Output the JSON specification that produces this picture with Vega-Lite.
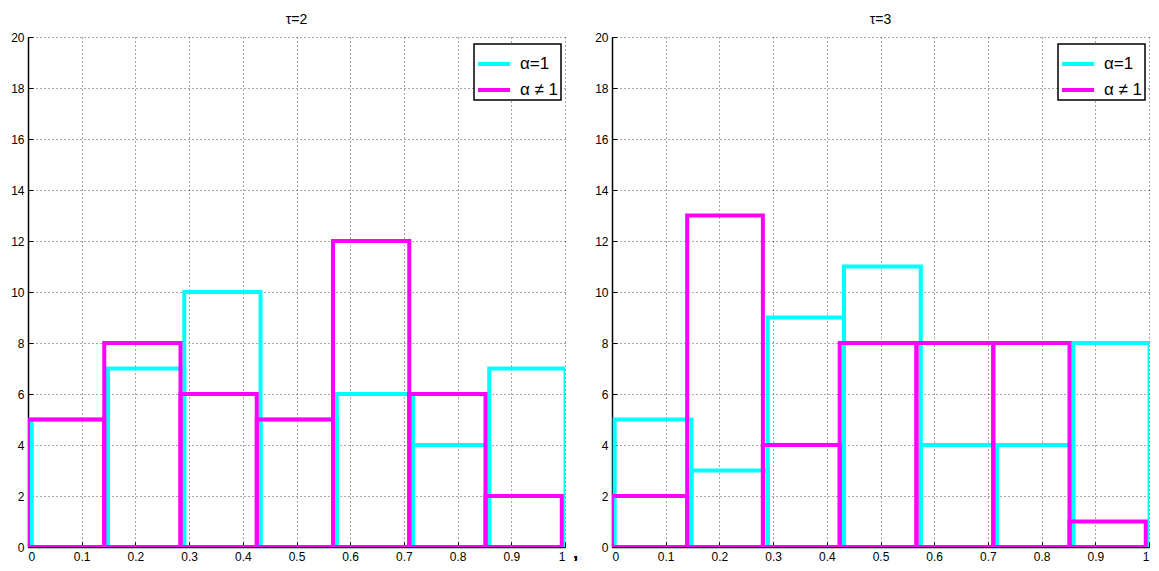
{
  "$schema": "https://vega.github.io/schema/vega-lite/v6.json",
  "background": "white",
  "padding": {"left": 10, "top": 13, "right": 5, "bottom": 5},
  "config": {
    "view": {"stroke": null},
    "font": "Liberation Sans",
    "axis": {
      "domainColor": "#000", "domainWidth": 1.5,
      "tickColor": "#000", "tickSize": -5, "tickWidth": 1,
      "labelColor": "#000", "labelFontSize": 12, "labelFont": "Liberation Sans", "labelPadding": 9,
      "gridColor": "#000", "gridDash": [1, 3], "gridOpacity": 0.7, "gridWidth": 1,
      "format": "~g",
      "title": null
    },
    "title": {"fontSize": 14, "fontWeight": "normal", "color": "#000", "offset": 4, "font": "Liberation Sans"},
    "legend": {
      "orient": "none", "legendX": 446, "legendY": 7,
      "strokeColor": "#000", "strokeWidth": 1.5, "fillColor": "#fff", "padding": 2,
      "symbolType": "stroke", "symbolStrokeWidth": 4, "symbolSize": 1024,
      "labelFontSize": 17, "labelColor": "#000", "labelFont": "Liberation Sans",
      "rowPadding": -4, "labelOffset": 8
    }
  },
  "datasets": {
    "hist": [
      {"panel": "τ=2", "series": "α=1", "start": 0.007, "end": 0.149, "count": 5},
      {"panel": "τ=2", "series": "α=1", "start": 0.149, "end": 0.291, "count": 7},
      {"panel": "τ=2", "series": "α=1", "start": 0.291, "end": 0.433, "count": 10},
      {"panel": "τ=2", "series": "α=1", "start": 0.433, "end": 0.575, "count": 5},
      {"panel": "τ=2", "series": "α=1", "start": 0.575, "end": 0.717, "count": 6},
      {"panel": "τ=2", "series": "α=1", "start": 0.717, "end": 0.859, "count": 4},
      {"panel": "τ=2", "series": "α=1", "start": 0.859, "end": 1.001, "count": 7},
      {"panel": "τ=2", "series": "α ≠ 1", "start": 0.0, "end": 0.142, "count": 5},
      {"panel": "τ=2", "series": "α ≠ 1", "start": 0.142, "end": 0.284, "count": 8},
      {"panel": "τ=2", "series": "α ≠ 1", "start": 0.284, "end": 0.426, "count": 6},
      {"panel": "τ=2", "series": "α ≠ 1", "start": 0.426, "end": 0.568, "count": 5},
      {"panel": "τ=2", "series": "α ≠ 1", "start": 0.568, "end": 0.710, "count": 12},
      {"panel": "τ=2", "series": "α ≠ 1", "start": 0.710, "end": 0.852, "count": 6},
      {"panel": "τ=2", "series": "α ≠ 1", "start": 0.852, "end": 0.994, "count": 2},
      {"panel": "τ=3", "series": "α=1", "start": 0.005, "end": 0.148, "count": 5},
      {"panel": "τ=3", "series": "α=1", "start": 0.148, "end": 0.290, "count": 3},
      {"panel": "τ=3", "series": "α=1", "start": 0.290, "end": 0.432, "count": 9},
      {"panel": "τ=3", "series": "α=1", "start": 0.432, "end": 0.575, "count": 11},
      {"panel": "τ=3", "series": "α=1", "start": 0.575, "end": 0.717, "count": 4},
      {"panel": "τ=3", "series": "α=1", "start": 0.717, "end": 0.859, "count": 4},
      {"panel": "τ=3", "series": "α=1", "start": 0.859, "end": 1.001, "count": 8},
      {"panel": "τ=3", "series": "α ≠ 1", "start": 0.0, "end": 0.140, "count": 2},
      {"panel": "τ=3", "series": "α ≠ 1", "start": 0.140, "end": 0.281, "count": 13},
      {"panel": "τ=3", "series": "α ≠ 1", "start": 0.281, "end": 0.424, "count": 4},
      {"panel": "τ=3", "series": "α ≠ 1", "start": 0.424, "end": 0.567, "count": 8},
      {"panel": "τ=3", "series": "α ≠ 1", "start": 0.567, "end": 0.710, "count": 8},
      {"panel": "τ=3", "series": "α ≠ 1", "start": 0.710, "end": 0.852, "count": 8},
      {"panel": "τ=3", "series": "α ≠ 1", "start": 0.852, "end": 0.994, "count": 1}
    ]
  },
  "spacing": 15,
  "resolve": {"legend": {"stroke": "independent"}, "scale": {"stroke": "independent"}},
  "hconcat": [
    {
      "title": "τ=2",
      "width": 537, "height": 510,
      "data": {"name": "hist"},
      "transform": [{"filter": "datum.panel == 'τ=2'"}],
      "layer": [
        {
          "mark": {"type": "rect", "fill": null, "fillOpacity": 0, "strokeWidth": 4, "clip": true},
          "encoding": {
            "x": {"field": "start", "type": "quantitative", "scale": {"domain": [0, 1], "nice": false}, "axis": {"values": [0, 0.1, 0.2, 0.3, 0.4, 0.5, 0.6, 0.7, 0.8, 0.9, 1], "grid": true}},
            "x2": {"field": "end"},
            "y": {"field": "count", "type": "quantitative", "scale": {"domain": [0, 20], "nice": false}, "axis": {"values": [0, 2, 4, 6, 8, 10, 12, 14, 16, 18, 20], "grid": true}},
            "y2": {"datum": 0},
            "stroke": {"field": "series", "type": "nominal", "scale": {"domain": ["α=1", "α ≠ 1"], "range": ["#00FFFF", "#FF00FF"]}, "legend": {"title": null}}
          }
        },
        {
          "mark": {"type": "text", "text": ",", "fontSize": 18, "dy": 11, "baseline": "alphabetic", "color": "#000", "clip": false},
          "encoding": {"x": {"datum": 1.02}, "y": {"datum": 0}}
        }
      ]
    },
    {
      "title": "τ=3",
      "width": 537, "height": 510,
      "data": {"name": "hist"},
      "transform": [{"filter": "datum.panel == 'τ=3'"}],
      "layer": [
        {
          "mark": {"type": "rect", "fill": null, "fillOpacity": 0, "strokeWidth": 4, "clip": true},
          "encoding": {
            "x": {"field": "start", "type": "quantitative", "scale": {"domain": [0, 1], "nice": false}, "axis": {"values": [0, 0.1, 0.2, 0.3, 0.4, 0.5, 0.6, 0.7, 0.8, 0.9, 1], "grid": true}},
            "x2": {"field": "end"},
            "y": {"field": "count", "type": "quantitative", "scale": {"domain": [0, 20], "nice": false}, "axis": {"values": [0, 2, 4, 6, 8, 10, 12, 14, 16, 18, 20], "grid": true}},
            "y2": {"datum": 0},
            "stroke": {"field": "series", "type": "nominal", "scale": {"domain": ["α=1", "α ≠ 1"], "range": ["#00FFFF", "#FF00FF"]}, "legend": {"title": null}}
          }
        }
      ]
    }
  ]
}
